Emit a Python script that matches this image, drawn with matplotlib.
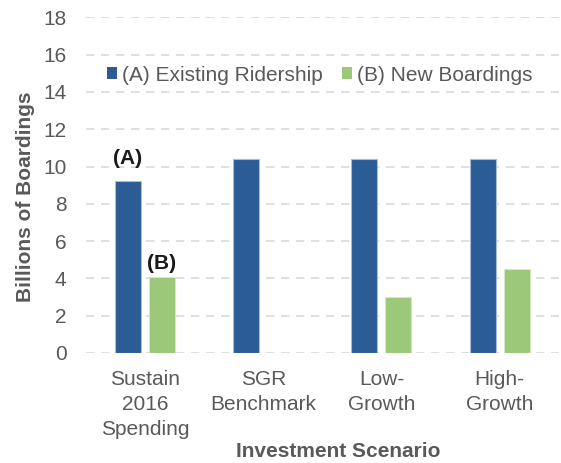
import matplotlib
matplotlib.use('Agg')
import matplotlib.pyplot as plt
import numpy as np

scenarios = ['Sustain\n2016\nSpending', 'SGR\nBenchmark', 'Low-\nGrowth', 'High-\nGrowth']
existing = [9.2, 10.4, 10.4, 10.4]
new_boardings = [4.1, 0.0, 3.0, 4.5]
y_ticks = list(range(0, 19, 2))

BLUE = '#2B5C96'
GREEN = '#9BC879'
GRAY = '#595959'

plt.rcParams['font.family'] = ['Liberation Sans', 'DejaVu Sans']

fig = plt.figure(figsize=(5.61, 4.63), dpi=100)
ax = fig.add_axes([0.153, 0.2376, 0.843, 0.725])

xs = np.arange(len(scenarios))
w = 0.22
off = 0.144
bars_a = ax.bar(xs - off, existing, w, color=BLUE, edgecolor='#A9BCD6', linewidth=0.8,
                label='(A) Existing Ridership', zorder=3)
bars_b = ax.bar(xs + off, new_boardings, w, color=GREEN, edgecolor='#D4E8C6', linewidth=0.8,
                label='(B) New Boardings', zorder=3)

ax.annotate('(A)', xy=(xs[0] - off, existing[0]), xytext=(0, 23), textcoords='offset pixels',
            ha='center', va='center', fontsize=15, fontweight='bold', color='#1a1a1a')
ax.annotate('(B)', xy=(xs[0] + off, new_boardings[0]), xytext=(0, 13), textcoords='offset pixels',
            ha='center', va='center', fontsize=15, fontweight='bold', color='#1a1a1a')

ax.set_xlim(-0.5, len(scenarios) - 0.5)
ax.set_ylim(0, 18)
ax.set_yticks(y_ticks)
ax.set_xticks(xs)
ax.set_xticklabels(scenarios, linespacing=1.42)
ax.tick_params(axis='both', length=0, labelsize=15, labelcolor=GRAY)
ax.tick_params(axis='y', pad=14)
ax.tick_params(axis='x', pad=12)

ax.yaxis.grid(True, color='#D9D9D9', linestyle=(0, (5, 4)), linewidth=1.2, zorder=0)
ax.set_axisbelow(True)
for s in ax.spines.values():
    s.set_visible(False)

ax.set_ylabel('Billions of Boardings', fontsize=15, fontweight='bold', color=GRAY)
ax.yaxis.set_label_coords(-0.108, 0.465)
ax.set_xlabel('Investment Scenario', fontsize=15, fontweight='bold', color=GRAY)
ax.xaxis.set_label_coords(0.533, -0.265)

leg = ax.legend(loc='center left', bbox_to_anchor=(0.044, 0.828), ncol=2, frameon=False,
                fontsize=15, handlelength=0.5, handleheight=0.5, handletextpad=0.25,
                columnspacing=0.9, borderpad=0, borderaxespad=0)
for t in leg.get_texts():
    t.set_color(GRAY)
for h in leg.legend_handles:
    h.set_edgecolor('none')

fig.savefig('out.png', dpi=100)
